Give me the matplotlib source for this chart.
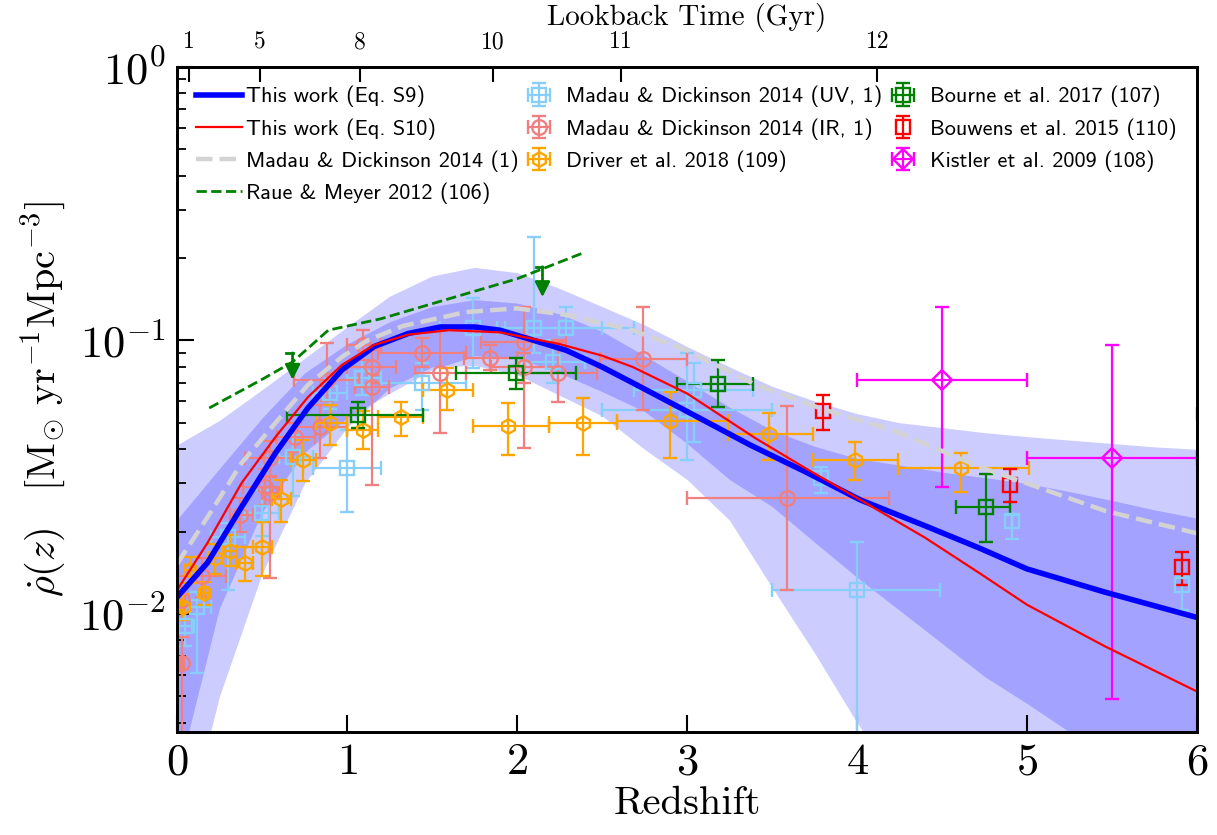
import matplotlib
matplotlib.use('Agg')
import matplotlib.pyplot as plt

plt.rcParams['font.family'] = 'serif'
plt.rcParams['font.serif'] = ['cmr10']
plt.rcParams['mathtext.fontset'] = 'cm'
plt.rcParams['axes.formatter.use_mathtext'] = True

# uncertainty bands (outer = light, inner = dark)
band_z = [0, 0.25, 0.5, 0.75, 1.0, 1.25, 1.5, 1.75, 2.0, 2.25, 2.5, 2.75, 3.0,
          3.25, 3.5, 3.75, 4.0, 4.25, 4.5, 4.75, 5.0, 5.25, 5.5, 5.75, 6.0]
outer_hi = [0.0415, 0.051, 0.066, 0.086, 0.112, 0.145, 0.172, 0.185, 0.177, 0.155, 0.133, 0.114, 0.095,
            0.080, 0.068, 0.060, 0.054, 0.050, 0.048, 0.046, 0.0445, 0.0432, 0.0420, 0.0408, 0.0400]
outer_lo = [0.0012, 0.0050, 0.0140, 0.030, 0.048, 0.067, 0.080, 0.081, 0.075, 0.063, 0.053, 0.040, 0.031,
            0.022, 0.0125, 0.0072, 0.0040, 0.0024, 0.0015, 0.0010, 0.0007, 0.0005, 0.0004, 0.0003, 0.0002]
inner_hi = [0.0221, 0.034, 0.052, 0.076, 0.097, 0.117, 0.133, 0.141, 0.137, 0.125, 0.108, 0.088, 0.071,
            0.057, 0.047, 0.041, 0.037, 0.035, 0.033, 0.0315, 0.030, 0.028, 0.026, 0.024, 0.0224]
inner_lo = [0.0025, 0.0105, 0.0235, 0.039, 0.052, 0.064, 0.078, 0.088, 0.086, 0.076, 0.065, 0.055, 0.042,
            0.031, 0.0247, 0.0183, 0.0136, 0.0103, 0.0078, 0.0059, 0.0047, 0.0037, 0.0030, 0.0024, 0.0020]

# model curves
s9_z = [0, 0.18, 0.38, 0.58, 0.77, 0.97, 1.16, 1.36, 1.55, 1.75, 1.9, 2.1, 2.29, 2.5, 2.68, 3.0,
        3.37, 3.7, 4.02, 4.4, 4.72, 5.0, 5.46, 6.0]
s9_v = [0.0115, 0.0154, 0.0246, 0.0388, 0.0566, 0.078, 0.095, 0.106, 0.112, 0.112, 0.109, 0.100, 0.092,
        0.080, 0.070, 0.055, 0.0415, 0.033, 0.0261, 0.0210, 0.0174, 0.0146, 0.0120, 0.0097]
s10_z = [0, 0.18, 0.38, 0.58, 0.77, 0.97, 1.16, 1.36, 1.6, 1.9, 2.25, 2.5, 2.68, 3.0, 3.4, 3.7, 4.02,
         4.4, 4.72, 5.0, 5.46, 6.0]
s10_v = [0.0122, 0.0182, 0.0301, 0.0444, 0.062, 0.0813, 0.0963, 0.105, 0.109, 0.107, 0.097, 0.088, 0.080,
         0.064, 0.044, 0.034, 0.0261, 0.019, 0.0141, 0.0108, 0.0076, 0.0052]
md_z = [0, 0.18, 0.38, 0.58, 0.77, 0.97, 1.12, 1.33, 1.7, 2.0, 2.29, 2.68, 3.0, 3.4, 3.8, 4.21, 4.72,
        5.0, 5.46, 6.0]
md_v = [0.0152, 0.0226, 0.0356, 0.050, 0.0687, 0.087, 0.100, 0.113, 0.127, 0.131, 0.124, 0.109, 0.092,
        0.069, 0.056, 0.047, 0.0345, 0.030, 0.0238, 0.0197]
rm_z = [0.19, 0.5, 0.68, 0.89, 1.2, 1.6, 2.0, 2.39]
rm_v = [0.0566, 0.072, 0.0834, 0.109, 0.120, 0.142, 0.168, 0.209]
rm_lim_z = [0.68, 2.15]
rm_lim_top = [0.090, 0.186]
rm_lim_bot = [0.0718, 0.144]

# data points: z, value, z range, value range
uv_z = [0.047, 0.12, 0.30, 0.50, 0.68, 0.90, 1.00, 1.09, 1.44, 1.74, 2.10, 2.29, 2.21, 3.04, 3.00, 4.00, 3.79, 4.91, 5.91]
uv_v = [0.0090, 0.0106, 0.0191, 0.0234, 0.0375, 0.0643, 0.0342, 0.0729, 0.070, 0.111, 0.111, 0.111, 0.0834,
        0.066, 0.0557, 0.0122, 0.0314, 0.0219, 0.0127]
uv_zlo = [0.01, 0.05, 0.20, 0.40, 0.60, 0.80, 0.80, 1.00, 1.20, 1.55, 1.88, 2.06, 2.05, 2.69, 2.50, 3.50, 3.79, 4.91, 5.91]
uv_zhi = [0.10, 0.20, 0.40, 0.60, 0.80, 1.00, 1.20, 1.20, 1.70, 1.93, 2.50, 2.69, 2.40, 3.39, 3.50, 4.49, 3.79, 4.91, 5.91]
uv_vlo = [0.0076, 0.0061, 0.0122, 0.0192, 0.0270, 0.0560, 0.0236, 0.0630, 0.0557, 0.0793, 0.090, 0.092, 0.070,
          0.0425, 0.0365, 0.002, 0.0277, 0.0188, 0.0103]
uv_vhi = [0.0106, 0.0120, 0.0215, 0.0283, 0.0450, 0.0720, 0.0471, 0.0850, 0.0826, 0.143, 0.239, 0.133, 0.100,
          0.0826, 0.090, 0.0183, 0.0345, 0.0229, 0.0138]

ir_z = [0.03, 0.03, 0.147, 0.371, 0.518, 0.547, 0.547, 0.694, 0.88, 0.84, 1.094, 1.147, 1.147, 1.44, 1.547,
        1.84, 2.04, 2.04, 2.24, 2.74, 3.59]
ir_v = [0.0112, 0.0066, 0.0137, 0.0230, 0.0291, 0.0277, 0.0372, 0.0444, 0.0717, 0.0483, 0.0963, 0.080, 0.0676,
        0.090, 0.076, 0.0863, 0.0988, 0.080, 0.076, 0.0856, 0.0266]
ir_zlo = [0.01, 0.02, 0.005, 0.31, 0.39, 0.50, 0.40, 0.59, 0.69, 0.70, 1.00, 1.00, 1.05, 1.18, 1.40,
          1.69, 1.79, 1.85, 2.00, 2.49, 3.00]
ir_zhi = [0.05, 0.04, 0.29, 0.45, 0.62, 0.60, 0.68, 0.81, 1.07, 1.00, 1.20, 1.29, 1.25, 1.70, 1.70,
          2.00, 2.29, 2.25, 2.47, 3.00, 4.19]
ir_vlo = [0.0095, 0.002, 0.0115, 0.0200, 0.0250, 0.0135, 0.0320, 0.0390, 0.060, 0.0372, 0.085, 0.070, 0.0296,
          0.080, 0.046, 0.078, 0.0405, 0.070, 0.0596, 0.0558, 0.0122]
ir_vhi = [0.0125, 0.0082, 0.0160, 0.0265, 0.0339, 0.0316, 0.0430, 0.0500, 0.098, 0.058, 0.109, 0.092, 0.075,
          0.102, 0.109, 0.096, 0.133, 0.090, 0.100, 0.132, 0.0576]

dr_z = [0.035, 0.076, 0.16, 0.224, 0.31, 0.40, 0.50, 0.61, 0.74, 0.90, 1.094, 1.32, 1.59, 1.95, 2.39, 2.90, 3.48, 3.99, 4.61]
dr_v = [0.0106, 0.0145, 0.0119, 0.0160, 0.0170, 0.0153, 0.0176, 0.0263, 0.0366, 0.0499, 0.0471, 0.0525, 0.066,
        0.0487, 0.0499, 0.0508, 0.0455, 0.0366, 0.0342]
dr_zlo = [0.02, 0.05, 0.14, 0.18, 0.27, 0.35, 0.45, 0.56, 0.67, 0.82, 1.00, 1.18, 1.45, 1.74, 2.19, 2.59, 3.24, 3.74, 4.24]
dr_zhi = [0.05, 0.10, 0.18, 0.27, 0.35, 0.45, 0.56, 0.67, 0.82, 1.00, 1.18, 1.45, 1.74, 2.19, 2.59, 3.24, 3.74, 4.24, 5.01]
dr_vlo = [0.0095, 0.0130, 0.0108, 0.0140, 0.0150, 0.0132, 0.0137, 0.0216, 0.0305, 0.0415, 0.040, 0.0446, 0.0557,
          0.038, 0.0382, 0.0372, 0.0365, 0.031, 0.0279]
dr_vhi = [0.0118, 0.0162, 0.0131, 0.0180, 0.0195, 0.0175, 0.0216, 0.0309, 0.0432, 0.0579, 0.055, 0.0596, 0.0793,
          0.059, 0.0616, 0.0648, 0.0543, 0.0425, 0.0388]

bo_z = [1.065, 1.995, 3.18, 4.76]
bo_v = [0.0534, 0.076, 0.0693, 0.0246]
bo_zlo = [0.65, 1.64, 2.94, 4.58]
bo_zhi = [1.45, 2.35, 3.39, 4.90]
bo_vlo = [0.0479, 0.0665, 0.0573, 0.0183]
bo_vhi = [0.0596, 0.0865, 0.0849, 0.0325]

bw_z = [3.80, 4.90, 5.91]
bw_v = [0.0552, 0.0296, 0.0149]
bw_vlo = [0.0472, 0.0256, 0.0127]
bw_vhi = [0.063, 0.0339, 0.0169]

ki_z = [4.5, 5.5, 7.5]
ki_v = [0.0716, 0.0372, 0.054]
ki_zlo = [4.0, 5.0, 6.0]
ki_zhi = [5.0, 6.0, 9.0]
ki_vlo = [0.0292, 0.0049, 0.030]
ki_vhi = [0.133, 0.0963, 0.090]

lookback_z = [0.069, 0.488, 1.076, 1.859, 2.61, 4.12]
lookback_lbl = ['1', '5', '8', '10', '11', '12']


def points(ax, z, v, vlo, vhi, color, marker, label, zlo=None, zhi=None):
    yerr = [[a - b for a, b in zip(v, vlo)], [b - a for a, b in zip(v, vhi)]]
    xerr = None
    if zlo is not None:
        xerr = [[a - b for a, b in zip(z, zlo)], [b - a for a, b in zip(z, zhi)]]
    return ax.errorbar(z, v, xerr=xerr, yerr=yerr, fmt=marker, color=color, mfc='none',
                       mec=color, ms=10.5, mew=1.7, elinewidth=1.6, capsize=5, capthick=1.6,
                       label=label, zorder=2)


fig = plt.figure(figsize=(12.17, 8.35), dpi=100)
ax = fig.add_axes([0.1454, 0.1234, 0.8382, 0.7964])
ax.set_yscale('log')
ax.set_xlim(0, 6)
ax.set_ylim(0.0037, 1)

ax.fill_between(band_z, outer_lo, outer_hi, color='blue', alpha=0.2, lw=0, zorder=1)
ax.fill_between(band_z, inner_lo, inner_hi, color='blue', alpha=0.2, lw=0, zorder=1)

h_uv = points(ax, uv_z, uv_v, uv_vlo, uv_vhi, 'lightskyblue', 's', 'Madau & Dickinson 2014 (UV, 1)', uv_zlo, uv_zhi)
h_ir = points(ax, ir_z, ir_v, ir_vlo, ir_vhi, 'lightcoral', 'o', 'Madau & Dickinson 2014 (IR, 1)', ir_zlo, ir_zhi)
h_dr = points(ax, dr_z, dr_v, dr_vlo, dr_vhi, 'orange', 'h', 'Driver et al. 2018 (109)', dr_zlo, dr_zhi)
h_bo = points(ax, bo_z, bo_v, bo_vlo, bo_vhi, 'green', 's', 'Bourne et al. 2017 (107)', bo_zlo, bo_zhi)
h_bw = points(ax, bw_z, bw_v, bw_vlo, bw_vhi, 'red', 's', 'Bouwens et al. 2015 (110)')
h_ki = points(ax, ki_z, ki_v, ki_vlo, ki_vhi, 'magenta', 'D', 'Kistler et al. 2009 (108)', ki_zlo, ki_zhi)

l_s9, = ax.plot(s9_z, s9_v, '-', color='blue', lw=4, label='This work (Eq. S9)', zorder=3)
l_s10, = ax.plot(s10_z, s10_v, '-', color='red', lw=1.6, label='This work (Eq. S10)', zorder=3.1)
l_md, = ax.plot(md_z, md_v, '--', color='lightgray', lw=3.2, label='Madau & Dickinson 2014 (1)', zorder=3.2)
l_rm, = ax.plot(rm_z, rm_v, '--', color='green', lw=2, label='Raue & Meyer 2012 (106)', zorder=3.3)
for z, top, bot in zip(rm_lim_z, rm_lim_top, rm_lim_bot):
    ax.annotate('', xy=(z, bot), xytext=(z, top), zorder=3.3,
                arrowprops=dict(arrowstyle='-|>,head_width=0.45,head_length=0.9', color='green',
                                lw=2, shrinkA=0, shrinkB=0))
    ax.plot([z - 0.04, z], [top, top], color='green', lw=2, zorder=3.3)

for s in ax.spines.values():
    s.set_linewidth(2)
ax.tick_params(axis='both', which='major', direction='in', length=12, width=1.5,
               labelsize=32, pad=8, right=False)
ax.tick_params(axis='y', which='minor', direction='in', length=6.5, width=1.3, right=False)
ax.set_xticks(range(7))
ax.set_xlabel('Redshift', fontsize=29, labelpad=2)
ax.set_ylabel(r'$\dot{\rho}(z)\quad[\mathrm{M}_{\odot}\ \mathrm{yr}^{-1}\mathrm{Mpc}^{-3}]$',
              fontsize=29, labelpad=8)

ax2 = ax.twiny()
ax2.set_xlim(0, 6)
ax2.set_xticks(lookback_z)
ax2.set_xticklabels(lookback_lbl)
ax2.tick_params(axis='x', direction='in', length=11, width=1.5, labelsize=17, pad=10)
ax2.set_xlabel('Lookback Time (Gyr)', fontsize=21, labelpad=4)
for s in ax2.spines.values():
    s.set_linewidth(2)

prop = dict(family='cmss10', size=16)
leg1 = ax.legend(handles=[l_s9, l_s10, l_md, l_rm], loc='upper left', frameon=False, prop=prop,
                 handlelength=2.07, handletextpad=0.18, borderaxespad=0.45, labelspacing=0.48)
ax.add_artist(leg1)
ax.legend(handles=[h_uv, h_ir, h_dr, h_bo, h_bw, h_ki], ncol=2, loc='upper left',
          bbox_to_anchor=(0.314, 1.0), frameon=False, prop=prop, handlelength=2.07,
          handletextpad=0.18, borderaxespad=0.45, labelspacing=0.48, columnspacing=-0.1)

fig.savefig('out.png', dpi=100)
